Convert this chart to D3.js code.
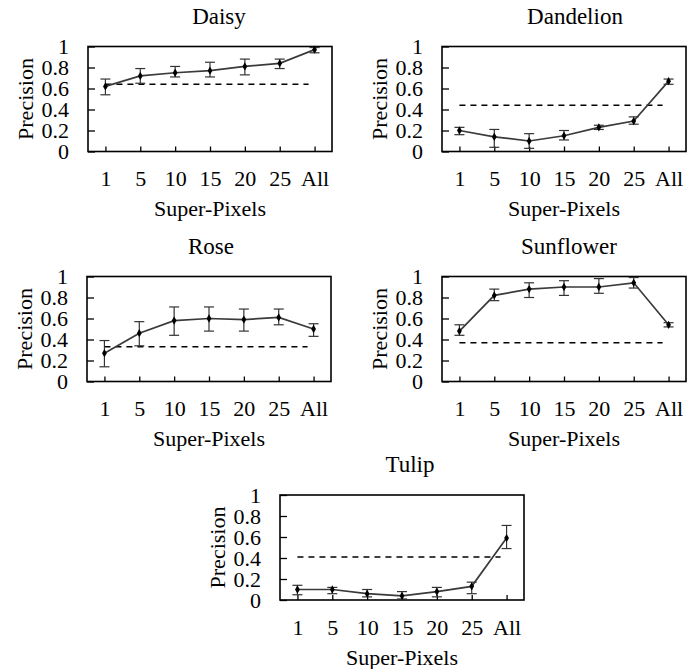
<!DOCTYPE html>
<html>
<head>
<meta charset="utf-8">
<script src="https://cdn.jsdelivr.net/npm/d3@7"></script>
<style>
  body { margin: 0; background: #fff; }
</style>
</head>
<body>
<div id="chart"></div>
<script>
const serif = "'Liberation Serif'";

// x categories (number of super-pixels)
const categories = ["1", "5", "10", "15", "20", "25", "All"];
const yTicks = [0, 0.2, 0.4, 0.6, 0.8, 1];
const titles = ["Daisy", "Dandelion", "Rose", "Sunflower", "Tulip"];

// mean precision and error bar ends
const daisyMean = [0.62, 0.72, 0.75, 0.77, 0.81, 0.84, 0.97];
const daisyLow  = [0.54, 0.65, 0.71, 0.71, 0.73, 0.79, 0.94];
const daisyHigh = [0.69, 0.79, 0.81, 0.85, 0.88, 0.88, 0.99];

const dandelionMean = [0.20, 0.14, 0.10, 0.15, 0.23, 0.29, 0.67];
const dandelionLow  = [0.16, 0.04, 0.03, 0.11, 0.21, 0.26, 0.64];
const dandelionHigh = [0.23, 0.21, 0.17, 0.20, 0.25, 0.33, 0.69];

const roseMean = [0.27, 0.46, 0.58, 0.60, 0.59, 0.61, 0.50];
const roseLow  = [0.14, 0.34, 0.44, 0.48, 0.48, 0.54, 0.43];
const roseHigh = [0.39, 0.57, 0.71, 0.71, 0.69, 0.69, 0.55];

const sunflowerMean = [0.48, 0.82, 0.88, 0.90, 0.90, 0.94, 0.54];
const sunflowerLow  = [0.44, 0.77, 0.80, 0.82, 0.84, 0.89, 0.52];
const sunflowerHigh = [0.54, 0.88, 0.94, 0.96, 0.98, 0.99, 0.56];

const tulipMean = [0.10, 0.10, 0.06, 0.04, 0.08, 0.13, 0.59];
const tulipLow  = [0.05, 0.06, 0.03, 0.01, 0.03, 0.06, 0.49];
const tulipHigh = [0.14, 0.12, 0.10, 0.08, 0.12, 0.17, 0.71];

// dashed reference level per flower
const baselines = [0.64, 0.44, 0.33, 0.37, 0.41];

const means = [daisyMean, dandelionMean, roseMean, sunflowerMean, tulipMean];
const lows  = [daisyLow, dandelionLow, roseLow, sunflowerLow, tulipLow];
const highs = [daisyHigh, dandelionHigh, roseHigh, sunflowerHigh, tulipHigh];

// panel frames (left, top) and title nudge
const panels = [
  { left: 88,  top: 46.5, shift: 9 },
  { left: 442, top: 46.5, shift: 11 },
  { left: 87,  top: 276.5, shift: 2 },
  { left: 442, top: 276.5, shift: 5 },
  { left: 280, top: 495, shift: 8 }
];
const frameW = 244, frameH = 105;

const svg = d3.select("#chart").append("svg")
  .attr("width", 697)
  .attr("height", 669)
  .style("background", "#fff");

panels.forEach((p, k) => {
  const g = svg.append("g");
  const x = d3.scalePoint(categories, [p.left, p.left + frameW]).padding(0.5);
  const y = d3.scaleLinear([0, 1], [p.top + frameH, p.top]);

  // y axis: ticks inside, labels outside
  const ya = g.append("g")
    .attr("transform", `translate(${p.left},0)`)
    .call(d3.axisLeft(y).tickValues(yTicks).tickFormat(d => d)
      .tickSizeInner(-7).tickSizeOuter(0).tickPadding(19));
  ya.select(".domain").remove();
  ya.attr("font-family", null).attr("font-size", null);
  ya.selectAll("line").attr("stroke", "#000").attr("stroke-width", 1.3);
  ya.selectAll("text").style("font-family", serif).style("font-size", "22px").attr("fill", "#000");

  // x axis
  const xa = g.append("g")
    .attr("transform", `translate(0,${p.top + frameH})`)
    .call(d3.axisBottom(x).tickSizeInner(-5).tickSizeOuter(0).tickPadding(19));
  xa.select(".domain").remove();
  xa.attr("font-family", null).attr("font-size", null);
  xa.selectAll("line").attr("stroke", "#000").attr("stroke-width", 1.3);
  xa.selectAll("text").style("font-family", serif).style("font-size", "22px").attr("fill", "#000");

  // frame
  g.append("rect")
    .attr("x", p.left).attr("y", p.top)
    .attr("width", frameW).attr("height", frameH)
    .attr("fill", "none").attr("stroke", "#000").attr("stroke-width", 1.6);

  // dashed reference line
  g.append("line")
    .attr("x1", x(categories[0])).attr("x2", x(categories[6]) - 6)
    .attr("y1", y(baselines[k])).attr("y2", y(baselines[k]))
    .attr("stroke", "#000").attr("stroke-width", 1.5)
    .attr("stroke-dasharray", "6,5");

  // error bars
  const rows = categories.map((c, i) => ({ c: c, m: means[k][i], lo: lows[k][i], hi: highs[k][i] }));
  const eb = g.append("g").attr("stroke", "#333").attr("stroke-width", 1.2);
  rows.forEach(d => {
    const cx = x(d.c);
    eb.append("line").attr("x1", cx).attr("x2", cx).attr("y1", y(d.lo)).attr("y2", y(d.hi));
    eb.append("line").attr("x1", cx - 5).attr("x2", cx + 5).attr("y1", y(d.lo)).attr("y2", y(d.lo));
    eb.append("line").attr("x1", cx - 5).attr("x2", cx + 5).attr("y1", y(d.hi)).attr("y2", y(d.hi));
  });

  // mean line
  g.append("path")
    .attr("d", d3.line().x(d => x(d.c)).y(d => y(d.m))(rows))
    .attr("fill", "none").attr("stroke", "#3a3a3a").attr("stroke-width", 1.7);

  g.selectAll(".pt").data(rows).join("path")
    .attr("transform", d => `translate(${x(d.c)},${y(d.m)})`)
    .attr("d", d3.symbol(d3.symbolDiamond, 20))
    .attr("fill", "#000");

  // titles and axis labels
  g.append("text")
    .attr("x", p.left + frameW / 2 + p.shift).attr("y", p.top - 23)
    .attr("text-anchor", "middle")
    .style("font-family", serif).style("font-size", "23px")
    .text(titles[k]);

  g.append("text")
    .attr("x", p.left + frameW / 2).attr("y", p.top + frameH + 64.5)
    .attr("text-anchor", "middle")
    .style("font-family", serif).style("font-size", "22px")
    .text("Super-Pixels");

  g.append("text")
    .attr("transform", `translate(${p.left - 55},${p.top + frameH / 2}) rotate(-90)`)
    .attr("text-anchor", "middle")
    .style("font-family", serif).style("font-size", "22px")
    .text("Precision");
});
</script>
</body>
</html>
